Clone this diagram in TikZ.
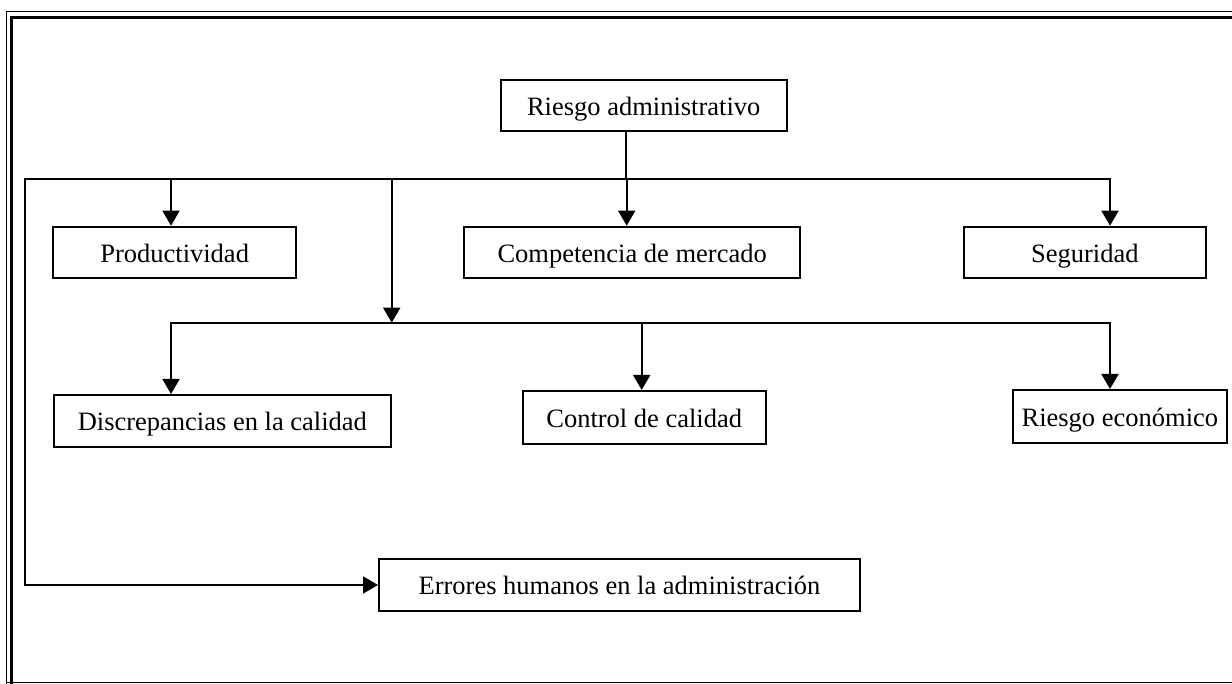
\documentclass[tikz,border=0pt]{standalone}
\usepackage{fontspec}
\setmainfont{Liberation Serif}
\usetikzlibrary{arrows.meta}
\begin{document}
\begin{tikzpicture}[x=1pt,y=-1pt,
  box/.style={draw, line width=2pt, inner sep=0pt,
    text height=24.2pt, text depth=4.8pt,
    font=\fontsize{26.5}{30}\selectfont},
  link/.style={line width=1.8pt, line cap=rect},
  arr/.style={line width=1.8pt, -{Triangle[width=17pt,length=15pt]}},
  frameout/.style={line width=1.6pt},
  framein/.style={line width=2.6pt}]
\useasboundingbox (0,0) rectangle (1232,684);

% page frame
\draw[frameout] (6.5,684) -- (6.5,11.7) -- (1232,11.7);
\draw[framein] (11.5,684) -- (11.5,17.5) -- (1232,17.5);
\draw[frameout] (6.5,682.5) -- (1232,682.5);

% boxes
\node[box, minimum width=286pt, minimum height=50.7pt] (top) at (643.7,105.35) {Riesgo administrativo};
\node[box, minimum width=242.7pt, minimum height=51.3pt] (prod) at (174.65,252.35) {Productividad};
\node[box, minimum width=335.7pt, minimum height=51.3pt] (comp) at (632.15,252.35) {Competencia de mercado};
\node[box, minimum width=241.7pt, minimum height=51.3pt] (seg) at (1084.85,252.35) {Seguridad};
\node[box, minimum width=336.7pt, minimum height=52pt] (disc) at (222.35,421) {Discrepancias en la calidad};
\node[box, minimum width=243pt, minimum height=53pt] (ctrl) at (644.2,417.5) {Control de calidad};
\node[box, minimum width=213.7pt, minimum height=53pt] (econ) at (1119.85,416.5) {Riesgo económico};
\node[box, minimum width=481pt, minimum height=51.4pt] (err) at (619.5,585) {Errores humanos en la administración};

% first distribution line
\coordinate (j0) at (625.7,179);
\coordinate (hl) at (25,179);
\coordinate (hr) at (1110,179);
\coordinate (a1) at (171,179);
\coordinate (a2) at (626.7,179);
\draw[link] (top.south -| j0) -- (j0);
\draw[link] (hl) -- (hr);
\draw[arr] (a1) -- (a1 |- prod.north);
\draw[arr] (a2) -- (a2 |- comp.north);
\draw[arr] (hr) -- (hr |- seg.north);

% branch to the second line
\coordinate (b0) at (391.7,179);
\coordinate (b1) at (391.7,322.7);
\draw[arr] (b0) -- (b1);

% second distribution line
\coordinate (l2a) at (171,322.7);
\coordinate (l2b) at (1110,322.7);
\coordinate (c2) at (641.7,322.7);
\draw[link] (l2a) -- (l2b);
\draw[arr] (l2a) -- (l2a |- disc.north);
\draw[arr] (c2) -- (c2 |- ctrl.north);
\draw[arr] (l2b) -- (l2b |- econ.north);

% left return line
\draw[link] (hl) -- (hl |- err.west);
\draw[arr] (hl |- err.west) -- (err.west);
\end{tikzpicture}
\end{document}
